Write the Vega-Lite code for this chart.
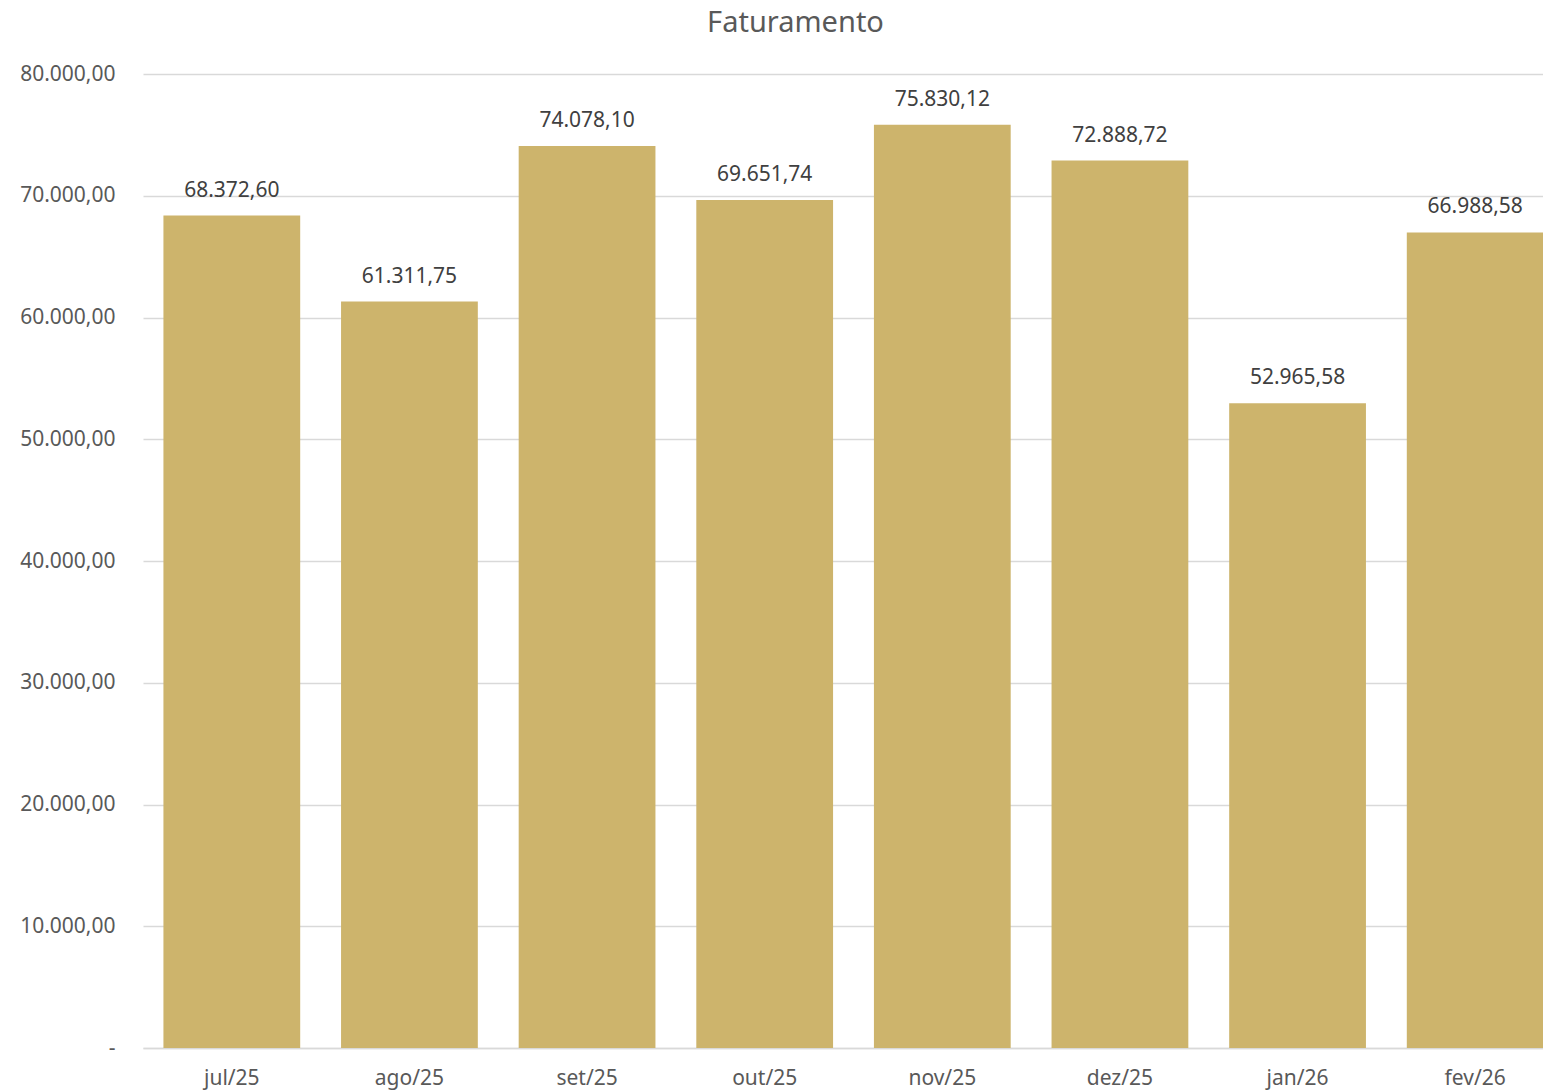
{
  "$schema": "https://vega.github.io/schema/vega-lite/v6.json",
  "autosize": {"type": "none"},
  "width": 1421,
  "height": 974,
  "padding": {"left": 143, "top": 74, "right": 0, "bottom": 44},
  "config": {
    "locale": {"number": {"decimal": ",", "thousands": ".", "grouping": [3], "currency": ["R$", ""]}},
    "font": "Noto Sans",
    "view": {"stroke": null},
    "background": "white"
  },
  "title": {
    "text": "Faturamento",
    "fontSize": 29,
    "fontWeight": "normal",
    "color": "#595959",
    "anchor": "middle",
    "dx": -58,
    "offset": 25,
    "font": "Noto Sans"
  },
  "data": {
    "values": [
      {"mes": "jul/25", "valor": 68372.60},
      {"mes": "ago/25", "valor": 61311.75},
      {"mes": "set/25", "valor": 74078.10},
      {"mes": "out/25", "valor": 69651.74},
      {"mes": "nov/25", "valor": 75830.12},
      {"mes": "dez/25", "valor": 72888.72},
      {"mes": "jan/26", "valor": 52965.58},
      {"mes": "fev/26", "valor": 66988.58}
    ]
  },
  "encoding": {
    "x": {
      "field": "mes", "type": "nominal", "sort": null, "title": null,
      "scale": {"paddingInner": 0.23, "paddingOuter": 0.115},
      "axis": {"labelAngle": 0, "labelFontSize": 21, "labelColor": "#595959", "ticks": false,
               "domainColor": "#D9D9D9", "domainWidth": 1.5, "labelPadding": 19}
    },
    "y": {
      "field": "valor", "type": "quantitative", "title": null,
      "scale": {"domain": [0, 80000]},
      "axis": {"values": [0,10000,20000,30000,40000,50000,60000,70000,80000],
               "labelExpr": "datum.value == 0 ? '-' : format(datum.value, ',.2f')",
               "labelFontSize": 21, "labelColor": "#595959", "ticks": false, "domain": false,
               "gridColor": "#D9D9D9", "gridWidth": 1.5, "labelPadding": 28}
    }
  },
  "layer": [
    {"mark": {"type": "bar", "color": "#CDB46C"}},
    {"mark": {"type": "text", "dy": -25, "baseline": "middle", "fontSize": 21, "color": "#404040"},
     "encoding": {"text": {"field": "valor", "type": "quantitative", "format": ",.2f"}}}
  ]
}
